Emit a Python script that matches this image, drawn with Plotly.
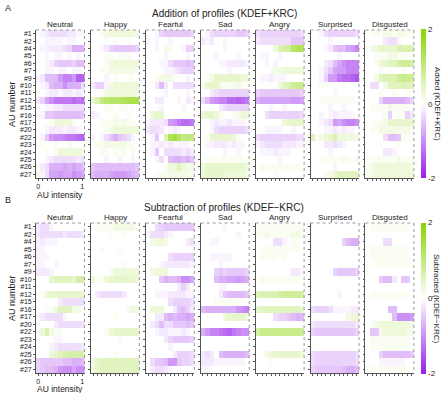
import plotly.graph_objects as go

AU_LABELS = ["#1", "#2", "#4", "#5", "#6", "#7", "#9", "#10", "#11", "#12",
             "#15", "#16", "#17", "#20", "#22", "#23", "#24", "#25", "#26", "#27"]
INTENSITY = [0.0, 0.1, 0.2, 0.3, 0.4, 0.5, 0.6, 0.7, 0.8, 0.9, 1.0]
EMOTIONS = ["Neutral", "Happy", "Fearful", "Sad", "Angry", "Surprised", "Disgusted"]

# ---------------- Panel A: Addition (KDEF+KRC) ----------------
ADD_NEUTRAL = [
    [0,-.1,-.2,-.3,-.3,-.3,-.3,-.2,-.2,-.1,-.1],
    [0,0,-.1,-.1,-.1,-.1,0,-.1,-.1,0,0],
    [0,-.1,-.1,-.2,-.2,-.2,-.3,-.4,-.7,-.7,-.7],
    [0,0,-.1,0,-.1,-.1,0,-.1,0,-.1,0],
    [0,0,-.1,-.2,-.4,-.5,-.5,-.5,-.4,-.6,-.6],
    [0,0,-.1,-.1,0,-.1,-.1,0,-.1,-.1,0],
    [-.1,-.2,-.6,-.6,-.6,-.9,-1.1,-1.1,-.9,-1.4,-1.4],
    [0,-.1,-.2,-.6,-.7,-.7,-1.0,-.7,-.7,-.7,-.3],
    [0,0,-.1,-.2,-.2,-.1,-.2,-.2,-.1,-.2,-.1],
    [-.2,-.4,-.8,-1.0,-1.2,-1.2,-1.2,-1.2,-1.3,-1.2,-1.3],
    [0,0,-.1,-.1,-.2,-.2,-.3,-.3,-.3,-.3,-.3],
    [0,-.1,-.5,-.5,-.6,-.6,-.6,-.6,-.6,-.6,-.5],
    [0,0,0,.1,.3,.3,.3,.3,.1,0,0],
    [0,0,-.1,-.2,-.2,-.2,-.1,-.2,-.2,-.1,0],
    [0,-.1,-.5,-.9,-1.0,-1.0,-1.1,-1.2,-1.2,-1.3,-1.4],
    [0,.1,0,0,.1,0,0,.1,0,0,0],
    [0,0,.1,0,.1,.3,.3,.3,.3,.3,.2],
    [0,0,-.1,-.2,-.3,-.3,-.3,-.3,-.3,-.2,-.3],
    [.1,-.2,-.3,-.7,-.7,-.7,-.8,-.7,-.8,-.7,-.6],
    [.2,-.1,-.3,-.8,-.8,-.9,-.8,-.8,-1.0,-.9,-.8],
]
ADD_HAPPY = [
    [0,0,.1,.2,.3,.3,.3,.3,.3,.3,.2],
    [0,0,0,.1,0,.1,0,0,.1,0,0],
    [0,0,-.1,-.2,-.4,-.5,-.5,-.5,-.5,-.5,-.4],
    [0,0,0,.1,.1,0,.1,.1,.1,0,0],
    [0,0,0,.1,.2,.3,.3,.3,.3,.3,.3],
    [0,0,.1,.1,.2,.2,.2,.2,.2,.2,.1],
    [0,0,0,-.1,0,.1,0,0,.1,.1,0],
    [-.2,-.4,-.4,-.1,.2,.3,.3,.3,.3,.3,.3],
    [0,0,.1,.2,.3,.3,.3,.3,.3,.3,.2],
    [.3,.6,1.0,1.1,1.2,1.2,1.2,1.3,1.4,1.4,1.4],
    [0,0,0,.1,.1,0,.1,.1,0,.1,0],
    [-.2,-.1,0,0,0,.1,0,0,.1,0,0],
    [0,0,.1,.1,.1,.2,.1,.2,.1,.1,0],
    [0,0,0,.1,.2,.3,.3,.3,.3,.3,.3],
    [-.1,0,-.1,-.3,-.5,-.7,-.5,-.4,-.3,-.1,0],
    [0,.1,.1,.2,.2,.2,.2,.2,.1,.1,0],
    [0,0,.1,.1,0,.1,.1,.1,0,.1,0],
    [0,0,0,-.1,0,0,-.1,0,0,-.1,0],
    [-.5,-.6,-.6,-.6,-.6,-.6,-.6,-.6,-.6,-.6,-.5],
    [-.6,-.7,-.7,-.7,-.8,-.9,-.9,-.9,-.8,-.7,-.6],
]
ADD_FEARFUL = [
    [0,0,-.1,-.4,-.5,-.5,-.5,-.5,-.5,-.5,-.4],
    [-.1,0,-.1,0,0,-.1,0,0,0,0,0],
    [0,0,-.1,0,.2,.1,0,0,-.1,-.4,-.4],
    [0,0,0,0,-.1,0,0,0,0,-.1,0],
    [0,0,0,-.1,-.1,-.3,-.5,-.5,-.5,-.6,-.5],
    [0,0,0,0,-.1,-.1,-.2,-.3,-.4,-.4,-.4],
    [0,0,.1,.2,.2,.2,.1,0,0,-.1,0],
    [0,0,-.2,-.6,-.2,0,-.3,-.3,-.3,-.3,-.3],
    [0,0,0,0,-.1,0,0,0,0,-.1,0],
    [0,0,-.2,-.2,0,0,0,-.1,0,-.2,-.1],
    [0,0,0,-.1,0,0,0,0,-.1,0,0],
    [0,.3,.4,.4,0,0,.1,0,0,0,0],
    [-.1,-.2,-.2,-.2,-.3,-.9,-1.0,-1.2,-1.3,-1.3,-1.2],
    [-.2,-.3,-.3,-.2,0,-.1,-.2,-.1,0,0,0],
    [0,-.1,-.5,0,.6,1.3,1.5,1.2,1.0,1.0,1.0],
    [0,-.1,-.1,-.2,-.1,-.2,-.1,-.1,-.1,-.1,0],
    [0,-.1,-.5,0,-.3,-.3,-.3,-.3,-.2,-.3,-.2],
    [0,0,-.1,-.3,0,-.6,-.7,-.7,-.6,-.7,-.5],
    [0,0,0,0,.1,.3,.3,.5,.3,.2,.2],
    [0,0,.1,.1,.1,.2,.2,.2,.2,.2,.1],
]
ADD_SAD = [
    [0,-.1,-.3,-.4,-.4,-.4,-.4,-.4,-.5,-.5,-.4],
    [-.2,-.1,-.2,0,0,-.1,0,0,0,0,0],
    [0,0,0,0,0,-.1,0,0,0,0,0],
    [0,0,0,-.1,0,0,0,0,-.1,0,0],
    [0,0,0,0,-.1,-.1,-.2,-.2,-.2,-.2,-.1],
    [0,0,0,0,0,0,-.1,0,0,0,0],
    [0,.1,.2,.4,.4,.4,.4,.4,.4,.3,.3],
    [.1,.4,.4,.4,.2,.1,.1,.1,.2,.1,.1],
    [0,0,-.2,-.3,-.4,-.4,-.4,-.4,-.4,-.4,-.4],
    [-.3,-.6,-.9,-1.0,-1.1,-1.1,-1.3,-1.3,-1.4,-1.3,-1.2],
    [0,0,0,0,-.2,-.3,-.4,-.4,-.4,-.4,-.4],
    [.3,.4,.4,.3,.1,0,0,.1,.2,.3,.3],
    [0,0,-.1,-.2,-.1,-.1,-.2,-.1,-.1,-.1,0],
    [0,0,-.1,-.3,-.4,-.4,-.4,-.4,-.4,-.4,-.3],
    [0,.1,.4,.4,.4,.4,.4,.3,.1,0,0],
    [0,-.1,-.1,-.2,-.2,-.2,-.1,-.2,-.1,-.1,0],
    [0,0,0,0,0,-.1,0,0,-.1,0,0],
    [0,.1,.1,.1,.1,.1,.1,.1,.1,.1,.1],
    [.3,.4,.4,.4,.4,.4,.4,.4,.4,.4,.3],
    [.3,.4,.4,.4,.4,.3,.3,.3,.3,.3,.2],
]
ADD_ANGRY = [
    [-.3,-.4,-.4,-.4,-.4,-.4,-.4,-.4,-.4,-.4,-.3],
    [-.2,-.3,-.3,-.3,-.3,-.3,-.3,-.3,-.5,-.5,-.5],
    [0,0,0,0,.3,.6,.7,.8,1.2,1.3,1.3],
    [0,-.1,-.1,0,0,-.1,0,0,0,0,0],
    [0,0,-.1,0,-.1,0,0,0,0,0,0],
    [0,0,0,.1,.2,.2,.3,.3,.3,.3,.3],
    [0,-.1,-.1,-.2,-.1,-.1,-.1,0,0,0,0],
    [0,0,0,0,0,.3,.5,.6,.8,.9,.9],
    [-.4,-.5,-.5,-.5,-.5,-.5,-.5,-.5,-.5,-.5,-.4],
    [-.7,-.8,-.8,-.8,-.8,-.8,-.8,-.8,-.9,-.9,-.8],
    [0,0,0,-.1,0,0,-.1,0,0,0,0],
    [0,0,-.3,-.4,-.4,-.4,-.4,-.4,-.4,-.4,-.3],
    [0,0,0,0,0,0,.3,.4,.4,.4,.4],
    [0,0,-.1,-.1,-.1,-.1,0,0,-.1,0,0],
    [-.3,-.4,-.4,-.4,-.4,-.4,-.4,-.4,-.4,-.3,-.3],
    [-.1,-.2,-.3,-.3,-.3,-.3,-.2,-.2,-.2,-.1,-.1],
    [0,-.1,-.1,-.1,-.2,-.1,-.1,-.1,0,0,0],
    [0,0,0,0,0,-.1,0,0,0,0,0],
    [0,.1,.1,.1,.1,.1,.1,.1,.1,.1,0],
    [0,0,0,0,.1,0,0,0,0,0,0],
]
ADD_SURPRISED = [
    [0,0,-.1,-.3,-.4,-.4,-.4,-.4,-.4,-.4,-.3],
    [0,0,0,0,-.1,0,0,0,0,0,0],
    [0,0,0,-.1,-.2,-.5,-.6,-.6,-.8,-.9,-1.1],
    [0,0,0,0,0,0,-.1,0,0,0,0],
    [0,0,0,-.2,-.3,-.6,-.8,-1.0,-1.1,-1.1,-1.1],
    [0,0,-.1,-.3,-.5,-.8,-.9,-.9,-1.1,-1.1,-1.1],
    [0,0,-.1,-.4,-.9,-.9,-1.2,-1.3,-1.3,-1.4,-1.5],
    [0,0,.1,.1,0,0,0,.1,0,0,0],
    [0,0,0,0,0,-.1,0,0,0,0,0],
    [0,0,.1,.1,.1,.1,.1,.1,.1,.1,0],
    [0,0,0,0,-.1,0,0,-.1,0,0,0],
    [0,0,-.1,0,-.1,-.2,-.1,-.1,-.1,-.1,0],
    [0,0,-.1,-.2,-.3,-.9,-.8,-1.0,-1.1,-1.1,-1.0],
    [0,0,0,-.1,-.1,-.2,-.1,-.2,-.1,-.1,0],
    [.5,.1,.2,.3,.4,.6,.3,.3,.3,.3,.2],
    [0,0,0,-.2,-.2,-.3,-.2,-.1,0,0,0],
    [0,0,0,0,-.1,0,0,0,0,0,0],
    [0,0,.1,.1,.1,.1,.1,.2,.1,.1,.1],
    [0,0,0,0,0,-.1,0,0,0,0,0],
    [0,0,0,.1,.2,.3,.5,.5,.5,.5,.5],
]
ADD_DISGUSTED = [
    [0,.1,.1,.1,.2,.2,.1,.2,.2,.1,.1],
    [0,0,0,0,-.2,-.3,-.3,-.1,0,0,0],
    [0,.2,.3,.4,.4,.4,.4,.6,.6,.6,.6],
    [0,0,.1,.1,.1,.2,.2,.1,.1,.1,.1],
    [0,0,.1,.3,.4,.5,.5,.7,.8,.8,.7],
    [0,0,0,.1,0,.1,0,0,.1,0,0],
    [0,0,.2,.5,.6,.6,.6,.8,.9,.9,.8],
    [0,-.3,-.3,0,.2,.5,.5,.5,.6,.5,.5],
    [0,0,0,.1,0,0,.1,0,0,.1,0],
    [0,0,0,-.4,-.7,-.7,-.7,-.7,-.7,-.6,-.4],
    [0,.1,.1,.1,.1,.2,.1,.1,.1,.1,0],
    [0,0,0,0,.1,-.4,0,.1,.1,-.4,-.2],
    [0,0,.1,.1,.2,.4,.4,.4,.4,.4,.4],
    [0,.1,.1,.2,.2,.2,.2,.2,.2,.2,.1],
    [0,0,0,0,-.3,-.6,-.6,-.5,.1,.1,0],
    [0,0,0,.1,0,0,0,.1,0,0,0],
    [0,0,0,0,-.2,-.2,-.1,0,0,0,0],
    [0,.1,.1,.1,.1,.1,.1,.2,.1,.1,.1],
    [.1,.2,.3,.3,.3,.3,.3,.3,.3,.3,.2],
    [.1,.2,.3,.3,.3,.3,.3,.3,.3,.3,.3],
]

# ---------------- Panel B: Subtraction (KDEF-KRC) ----------------
SUB_NEUTRAL = [
    [-.2,-.3,-.3,-.1,0,0,0,0,0,0,0],
    [-.2,-.3,-.3,-.3,-.3,-.3,-.2,-.3,-.3,-.3,-.2],
    [-.1,-.2,-.1,-.1,-.1,0,0,0,0,0,0],
    [-.1,-.1,0,0,0,0,0,0,0,0,0],
    [-.1,-.1,-.1,0,0,0,0,0,0,0,0],
    [-.1,-.1,0,0,-.1,0,0,0,0,0,0],
    [-.2,-.2,-.2,-.1,0,0,0,0,0,0,0],
    [0,0,0,.4,.5,.5,.5,.5,.4,.7,.7],
    [0,0,0,0,0,0,0,0,0,0,0],
    [0,.1,.3,.4,.4,.4,.4,.4,.4,.4,.4],
    [0,0,0,0,0,-.2,-.3,-.3,-.3,-.3,-.3],
    [0,0,.1,.1,.3,.5,.5,.5,.2,.2,.1],
    [0,-.2,-.3,-.3,-.3,-.3,-.1,0,0,0,0],
    [0,0,0,0,-.2,-.3,-.3,-.3,-.3,-.3,-.3],
    [0,.3,.6,.2,.1,.1,0,0,0,0,0],
    [0,0,0,0,-.1,-.1,0,0,0,0,0],
    [0,0,0,-.1,-.2,-.3,-.3,-.3,-.3,-.3,-.2],
    [0,0,0,.3,.4,.5,.6,.7,.7,.7,.7],
    [-.4,-.5,-.5,-.5,-.5,-.5,-.6,-.6,-.7,-.7,-.6],
    [-.4,-.5,-.6,-.6,-.7,-.9,-1.0,-1.0,-.8,-1.0,-1.0],
]
SUB_HAPPY = [
    [0,.1,.1,.1,.1,.2,.2,.2,.2,.2,.1],
    [0,0,0,0,.1,0,0,.1,0,0,0],
    [0,0,0,0,0,0,0,0,0,0,0],
    [0,0,.1,0,0,0,.1,0,0,0,0],
    [0,0,0,0,0,0,0,0,0,0,0],
    [0,0,0,0,0,0,0,.1,0,0,0],
    [0,0,0,0,.1,.3,.3,.3,.3,.3,.3],
    [.3,.1,.1,.3,.4,.4,.4,.4,.4,.4,.3],
    [0,0,0,0,0,0,0,0,0,0,0],
    [0,-.2,-.3,-.3,-.3,-.3,-.3,-.2,0,0,0],
    [0,0,0,0,0,0,0,0,0,0,0],
    [0,0,0,0,0,0,0,0,.2,.3,.2],
    [0,0,0,0,0,.1,0,0,0,0,0],
    [0,0,0,0,0,0,0,0,0,0,0],
    [0,0,0,.1,.3,.4,.4,.4,.4,.4,.4],
    [0,0,0,0,0,0,.1,0,0,0,0],
    [0,0,0,0,0,0,0,0,0,0,0],
    [0,0,0,0,0,.1,0,0,0,0,0],
    [.2,.4,.5,.5,.5,.5,.5,.5,.5,.5,.5],
    [.2,.4,.5,.5,.5,.5,.5,.5,.5,.5,.5],
]
SUB_FEARFUL = [
    [0,0,-.3,-.4,-.5,-.5,-.5,-.5,-.5,-.5,-.5],
    [-.1,-.3,-.3,-.3,-.2,-.1,0,0,0,0,0],
    [0,.2,.3,.3,.2,0,0,0,0,-.2,-.3],
    [0,0,0,0,0,0,0,0,0,0,0],
    [0,0,0,0,0,-.3,-.4,-.4,-.4,-.4,-.4],
    [0,0,0,-.1,-.2,-.2,-.2,-.2,-.2,-.2,-.1],
    [0,.2,.3,.3,.3,0,0,0,0,0,0],
    [0,0,0,-.5,-.7,-.6,-.6,-.7,-1.0,-1.0,-.8],
    [0,0,0,0,0,0,0,-.2,-.4,-.2,0],
    [0,0,-.1,-.1,-.1,-.2,-.2,-.2,-.2,-.1,-.1],
    [0,0,0,0,0,-.3,-.4,-.4,-.4,-.4,-.3],
    [0,.3,.3,.3,0,0,-.2,-.5,-.6,-.4,-.2],
    [0,0,-.2,-.2,-.6,-.7,-.6,-.7,-.7,-.8,-.7],
    [0,-.2,-.3,-.6,-.3,-.3,-.5,-.5,-.5,-.6,-.5],
    [0,0,-.1,-.2,-.2,-.1,-.1,-.1,-.2,-.1,0],
    [0,0,0,0,-.2,-.4,-.5,-.5,-.5,-.5,-.4],
    [0,0,0,0,0,-.1,0,0,0,0,0],
    [0,0,0,0,0,0,-.2,-.4,-.4,-.4,-.3],
    [0,-.3,-.5,-.5,-.6,-.9,-.9,-.5,-.4,-.4,-.3],
    [0,-.2,-.3,-.3,-.2,-.1,0,0,0,0,0],
]
SUB_SAD = [
    [0,0,0,0,0,-.1,0,0,0,0,0],
    [0,0,0,0,0,0,0,0,-.1,0,0],
    [0,0,-.1,-.1,0,0,0,0,0,0,0],
    [0,0,0,0,0,0,0,0,0,0,0],
    [0,0,-.1,-.1,-.1,-.1,-.1,0,0,0,0],
    [0,0,0,0,-.1,0,0,0,0,0,0],
    [0,0,0,-.4,-.5,-.4,-.5,-.5,-.5,-.5,-.4],
    [0,0,0,-.6,-.7,-.7,-.8,-.8,-.9,-.8,-.7],
    [0,0,0,0,-.1,-.1,0,0,0,0,0],
    [0,0,0,0,-.2,-.5,-.6,-.6,-.6,-.6,-.5],
    [0,0,0,.1,.1,.1,.1,.1,.1,0,0],
    [-.6,-.7,-.7,-.7,-.7,-.7,-.7,-.7,-.9,-1.0,-1.1],
    [0,0,0,0,0,.3,.4,.4,.4,.4,.3],
    [0,0,0,0,0,0,0,0,0,0,0],
    [-.7,-.9,-1.1,-1.1,-1.2,-1.3,-1.4,-1.2,-1.1,-1.0,-1.0],
    [0,0,0,0,0,0,0,0,0,0,0],
    [0,0,0,0,0,0,0,0,0,0,0],
    [-.2,-.3,-.2,0,-.6,-.7,-.7,-.7,-.7,-.7,-.6],
    [-.2,-.2,-.2,-.1,-.1,-.1,-.1,-.1,-.1,-.1,0],
    [-.1,-.1,0,0,0,0,0,0,0,0,0],
]
SUB_ANGRY = [
    [.1,.1,.1,.1,.1,.1,.1,.1,.1,.1,.1],
    [.1,.1,.2,.1,.1,.1,.1,.1,.2,.2,.1],
    [0,0,0,0,-.3,-.3,-.1,0,.1,.1,0],
    [0,.1,.1,.1,.1,.1,.1,.1,.1,.1,0],
    [0,.1,.1,.1,.1,0,.1,0,0,0,0],
    [0,0,0,0,0,0,0,0,0,0,0],
    [0,0,0,0,0,0,0,0,-.2,-.2,-.1],
    [0,.1,.1,.1,.1,.1,.1,.1,.1,.1,0],
    [0,0,0,0,0,0,0,0,0,0,0],
    [.5,.6,.6,.6,.6,.7,.8,.8,.8,.8,.7],
    [0,0,0,0,0,0,0,0,0,0,0],
    [.4,.5,.5,.5,.5,.5,.5,.5,.5,.5,.4],
    [0,0,0,0,-.3,-.4,-.4,-.5,-.6,-.7,-.6],
    [0,0,0,0,0,0,0,0,0,0,0],
    [.7,.9,.9,.9,.9,.9,.9,.9,.9,.9,.8],
    [0,0,0,0,0,0,0,0,0,0,0],
    [0,0,0,0,0,0,0,0,0,0,0],
    [0,0,.2,.3,.4,.4,.4,.4,.4,.4,.3],
    [0,0,0,.1,0,0,0,0,0,0,0],
    [0,0,0,0,0,0,0,0,0,0,0],
]
SUB_SURPRISED = [
    [0,0,0,0,0,0,0,0,0,0,0],
    [0,0,0,0,0,0,0,0,0,0,0],
    [0,0,0,0,0,0,0,-.4,-.6,-.7,-.7],
    [0,0,0,0,0,0,0,0,0,0,0],
    [0,0,0,0,0,0,0,0,0,0,0],
    [0,0,0,0,0,0,0,0,0,0,0],
    [0,0,0,0,0,-.4,-.5,-.5,-.5,-.5,-.4],
    [0,0,0,0,0,0,0,0,0,0,0],
    [0,0,0,0,0,0,0,0,0,0,0],
    [0,0,0,0,0,0,-.1,0,0,0,0],
    [0,0,0,0,0,0,0,0,0,0,0],
    [-.3,-.4,-.4,-.4,-.3,-.1,-.1,-.1,-.1,-.2,-.2],
    [0,0,0,0,0,0,0,0,.2,.3,.3],
    [-.2,-.3,-.3,-.3,-.3,-.3,-.3,-.3,-.3,-.3,-.2],
    [-.4,-.5,-.5,-.5,-.5,-.5,-.5,-.5,-.5,-.5,-.4],
    [0,0,0,0,0,0,0,0,0,0,0],
    [0,0,0,0,0,0,0,0,0,0,0],
    [-.3,-.4,-.4,-.4,-.4,-.4,-.4,-.4,-.4,-.4,-.3],
    [-.3,-.4,-.4,-.4,-.4,-.4,-.4,-.4,-.4,-.4,-.3],
    [-.4,-.5,-.5,-.5,-.5,-.5,-.5,-.6,-.7,-.7,-.6],
]
SUB_DISGUSTED = [
    [0,.1,.1,.1,.1,.1,.1,.1,.1,.1,0],
    [0,0,0,0,0,0,0,0,0,0,0],
    [0,0,0,0,-.3,-.3,0,0,0,0,0],
    [0,.1,.1,.1,.1,.1,.1,.1,.1,.1,0],
    [0,.1,.1,.1,.1,.1,.1,.1,.1,.1,0],
    [0,0,.1,.1,.1,.1,.1,.1,.1,.1,0],
    [0,0,0,0,0,0,0,0,0,0,0],
    [0,0,0,-.5,-.6,-.6,-.2,0,-.5,-.5,0],
    [0,0,0,0,0,0,0,0,0,0,0],
    [0,.1,.1,.1,.1,.1,.1,.1,.1,.1,0],
    [0,0,0,0,0,0,0,0,0,0,0],
    [0,0,0,0,0,-.6,-.6,0,0,0,0],
    [0,0,0,0,0,.1,-.6,-1.0,-1.0,-1.0,-.9],
    [0,.1,.2,.3,.3,.3,.3,.3,.3,.3,.2],
    [0,-.5,-.5,.2,.3,.3,.3,.3,.3,.2,.2],
    [0,.1,.1,.1,.1,.1,.1,.1,.1,.1,0],
    [0,.1,.1,.1,.1,.1,.1,.1,.1,.1,0],
    [0,0,0,-.4,-.6,-.6,-.6,-.6,-.6,-.6,-.5],
    [0,0,0,-.1,-.1,-.1,-.1,-.1,-.1,0,0],
    [0,.1,.1,.1,.1,.1,.1,.1,.1,.1,0],
]

PANELS = [
    {"letter": "A", "title": "Addition of profiles (KDEF+KRC)",
     "cbar": "Added (KDEF+KRC)",
     "data": [ADD_NEUTRAL, ADD_HAPPY, ADD_FEARFUL, ADD_SAD, ADD_ANGRY, ADD_SURPRISED, ADD_DISGUSTED],
     "top": 30, "bottom": 178, "letter_y": 8, "title_y": 14, "sub_y": 24.5,
     "xlab_y": 194.5},
    {"letter": "B", "title": "Subtraction of profiles (KDEF\u2212KRC)",
     "cbar": "Subtracted (KDEF\u2212KRC)",
     "data": [SUB_NEUTRAL, SUB_HAPPY, SUB_FEARFUL, SUB_SAD, SUB_ANGRY, SUB_SURPRISED, SUB_DISGUSTED],
     "top": 223, "bottom": 373, "letter_y": 200, "title_y": 207.5, "sub_y": 218,
     "xlab_y": 388.5},
]

W, H = 443, 393
FONT = "Liberation Sans, Arial, sans-serif"
TXT = "#222222"
COLORSCALE = [[0.0, "rgb(150,30,235)"], [0.5, "rgb(255,255,255)"], [1.0, "rgb(135,212,0)"]]

def px(x):
    return x / W

def py(y):
    return 1 - y / H

fig = go.Figure()
layout = dict(width=W, height=H, margin=dict(l=0, r=0, t=0, b=0), autosize=False,
              paper_bgcolor="white", plot_bgcolor="white", showlegend=False,
              font=dict(family=FONT, size=8, color=TXT))
annotations = []
shapes = []

LEFT0, STEP, PW = 36.0, 54.9, 48.5

for p, panel in enumerate(PANELS):
    cax = "coloraxis" if p == 0 else "coloraxis2"
    top, bot = panel["top"], panel["bottom"]
    layout[cax] = dict(
        cmin=-2, cmax=2, colorscale=COLORSCALE,
        colorbar=dict(x=px(421), xanchor="left", y=py((top + bot) / 2), yanchor="middle",
                      len=(bot - top + 1) / H, lenmode="fraction", thickness=5,
                      thicknessmode="pixels", outlinewidth=0, tickvals=[-2, 0, 2],
                      ticktext=["-2", "0", "2"], ticks="", ticklabelposition="outside",
                      tickfont=dict(size=8, family=FONT, color=TXT), xpad=0, ypad=0))
    for j, emo in enumerate(EMOTIONS):
        k = p * 7 + j + 1
        xa = "x" if k == 1 else f"x{k}"
        ya = "y" if k == 1 else f"y{k}"
        left = LEFT0 + STEP * j
        right = left + PW
        fig.add_trace(go.Heatmap(
            z=panel["data"][j], x=INTENSITY, y=list(range(len(AU_LABELS))),
            coloraxis=cax, xaxis=xa, yaxis=ya, hoverinfo="skip"))
        first = (j == 0)
        layout[f"xaxis{k}"] = dict(
            domain=[px(left), px(right)], anchor=ya, range=[-0.05, 1.05],
            tickvals=INTENSITY,
            ticktext=[("0" if v == 0 else "1" if v == 1 else "") for v in INTENSITY] if first else [""] * len(INTENSITY),
            ticks="outside", ticklen=2, tickwidth=0.8, tickcolor="#555",
            showline=True, linecolor="#555", linewidth=0.8, showgrid=False, zeroline=False,
            tickfont=dict(size=7, family=FONT, color=TXT), fixedrange=True)
        layout[f"yaxis{k}"] = dict(
            domain=[py(bot), py(top)], anchor=xa, range=[len(AU_LABELS) - 0.5, -0.5],
            tickvals=list(range(len(AU_LABELS))),
            ticktext=AU_LABELS if first else [""] * len(AU_LABELS),
            ticks="outside", ticklen=2, tickwidth=0.8, tickcolor="#555",
            showline=True, linecolor="#555", linewidth=0.8, showgrid=False, zeroline=False,
            tickfont=dict(size=7, family=FONT, color=TXT), fixedrange=True)
        shapes.append(dict(type="line", xref="paper", yref="paper", x0=px(left), x1=px(right),
                           y0=py(top), y1=py(top), line=dict(color="#999", width=1, dash="dot")))
        shapes.append(dict(type="line", xref="paper", yref="paper", x0=px(right), x1=px(right),
                           y0=py(top), y1=py(bot), line=dict(color="#999", width=1, dash="dot")))
        annotations.append(dict(text=emo, x=px((left + right) / 2), y=py(panel["sub_y"]),
                                xref="paper", yref="paper", showarrow=False,
                                font=dict(size=8, family=FONT, color=TXT),
                                xanchor="center", yanchor="middle"))
    annotations.append(dict(text=panel["letter"], x=px(3), y=py(panel["letter_y"]),
                            xref="paper", yref="paper", showarrow=False, xanchor="left",
                            yanchor="middle", font=dict(size=9, family=FONT, color=TXT)))
    annotations.append(dict(text=panel["title"], x=px(224), y=py(panel["title_y"]),
                            xref="paper", yref="paper", showarrow=False, xanchor="center",
                            yanchor="middle", font=dict(size=10, family=FONT, color=TXT)))
    annotations.append(dict(text="AU number", x=px(12), y=py((top + bot) / 2),
                            xref="paper", yref="paper", showarrow=False, textangle=-90,
                            xanchor="center", yanchor="middle",
                            font=dict(size=9, family=FONT, color=TXT)))
    annotations.append(dict(text="AU intensity", x=px(60), y=py(panel["xlab_y"]),
                            xref="paper", yref="paper", showarrow=False,
                            xanchor="center", yanchor="middle",
                            font=dict(size=8.5, family=FONT, color=TXT)))
    annotations.append(dict(text=panel["cbar"], x=px(437), y=py((top + bot) / 2),
                            xref="paper", yref="paper", showarrow=False, textangle=90,
                            xanchor="center", yanchor="middle",
                            font=dict(size=8, family=FONT, color=TXT)))

layout["annotations"] = annotations
layout["shapes"] = shapes
fig.update_layout(**layout)
fig.write_html("out.html", config={"displayModeBar": False},
               post_script="document.body.style.margin='0px';")
